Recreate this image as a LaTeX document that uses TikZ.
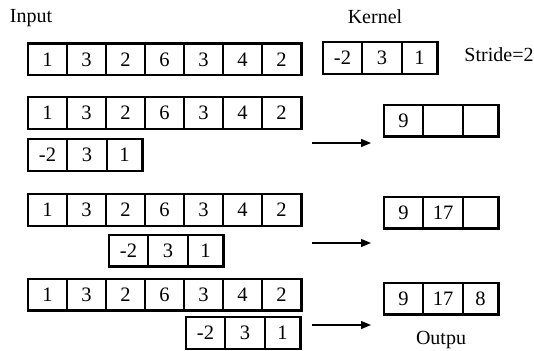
\documentclass[tikz,border=0pt]{standalone}
\usepackage{fontspec}
\setmainfont{Liberation Serif}
\usetikzlibrary{fit,arrows.meta}
\tikzset{
  cell/.style={draw, line width=1.1pt, inner sep=0pt, minimum height=31pt, font=\fontsize{20.5}{20.5}\selectfont},
  frame/.style={draw, line width=1.9pt, inner sep=0pt},
  lbl/.style={font=\fontsize{20}{20}\selectfont, inner sep=0pt},
  arr/.style={line width=1.2pt, -{Triangle[length=10pt,width=8pt]}}
}
\newcommand{\inrow}[2]{%
  \foreach \v [count=\i] in {1,3,2,6,3,4,2}
    \node[cell, minimum width=39pt] (#1c\i) at ({28+39*(\i-0.5)},#2) {\v};
  \node[frame, fit=(#1c1)(#1c7)] (#1) {};
}
\newcommand{\threerow}[5]{% name, x0, yc, a, b, c
  \node[cell, minimum width=39pt] (#1c1) at ({#2+19.5},#3) {#4};
  \node[cell, minimum width=40pt] (#1c2) at ({#2+59},#3) {#5};
  \threerowend{#1}{#2}{#3}}
\newcommand{\threerowend}[4]{%
  \node[cell, minimum width=35pt] (#1c3) at ({#2+96.5},#3) {#4};
  \node[frame, fit=(#1c1)(#1c3)] (#1) {};
}
\begin{document}
\begin{tikzpicture}[x=1pt,y=-1pt]
\useasboundingbox (0,0) rectangle (534,350);
\node[lbl] (input) at (31,18) {Input};
\node[lbl] (kernel) at (375,17) {Kernel};
\node[lbl] (stride) at (499,55) {Stride=2};
\node[lbl] (outp) at (441,340) {Outpu};
% input rows
\inrow{in1}{59.5}
\inrow{in2}{113}
\inrow{in3}{210}
\inrow{in4}{294.5}
% kernels
\threerow{k1}{323}{58}{-2}{3}{1}
\threerow{k2}{28}{155}{-2}{3}{1}
\threerow{k3}{109}{250.5}{-2}{3}{1}
\threerow{k4}{186}{333}{-2}{3}{1}
% outputs
\threerow{o2}{384}{120.5}{9}{}{}
\threerow{o3}{384}{212.5}{9}{17}{}
\threerow{o4}{384}{298.5}{9}{17}{8}
% arrows
\coordinate (a2s) at (312,143);
\coordinate (a2e) at (371,143);
\coordinate (a3s) at (312,243);
\coordinate (a3e) at (371,243);
\coordinate (a4s) at (312,325);
\coordinate (a4e) at (371,325);
\draw[arr] (a2s) -- (a2e);
\draw[arr] (a3s) -- (a3e);
\draw[arr] (a4s) -- (a4e);
\end{tikzpicture}
\end{document}
